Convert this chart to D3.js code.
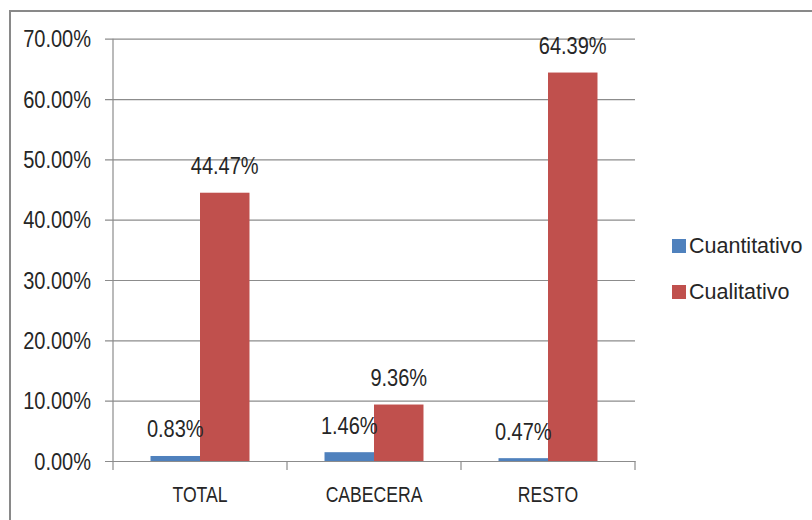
<!DOCTYPE html>
<html>
<head>
<meta charset="utf-8">
<script src="https://cdn.jsdelivr.net/npm/d3@7"></script>
<style>
  html, body { margin: 0; padding: 0; background: #ffffff; }
  svg { display: block; }
  text { font-family: "Liberation Sans", Arial, sans-serif; fill: #262626; }
</style>
</head>
<body>
<svg id="chart" width="812" height="520"></svg>
<script>
// Chart data
const categories = ["TOTAL", "CABECERA", "RESTO"];
const seriesNames = ["Cuantitativo", "Cualitativo"];
const cuantitativo = [0.0083, 0.0146, 0.0047];
const cualitativo = [0.4447, 0.0936, 0.6439];
const yTicks = [0, 0.1, 0.2, 0.3, 0.4, 0.5, 0.6, 0.7];
const colors = ["#4F81BD", "#C0504D"];

const seriesValues = [cuantitativo, cualitativo];
const rows = categories.map((c, i) => ({
  category: c,
  values: seriesNames.map((s, j) => ({ series: s, value: seriesValues[j][i] }))
}));

const svg = d3.select("#chart");

// Narrow the glyphs horizontally around each text's own anchor point
function condense(selection, sx) {
  selection.each(function () {
    const t = d3.select(this);
    const x = +t.attr("x") || 0;
    const y = +t.attr("y") || 0;
    t.attr("x", 0).attr("y", 0)
      .attr("transform", `translate(${x},${y}) scale(${sx},1)`);
  });
}

// Outer chart frame
svg.append("rect")
  .attr("x", 10).attr("y", 11)
  .attr("width", 812).attr("height", 520)
  .attr("fill", "#ffffff")
  .attr("stroke", "#898989")
  .attr("stroke-width", 2);

const plot = { left: 113, right: 635, top: 38.7, bottom: 461 };

const x0 = d3.scaleBand()
  .domain(categories)
  .range([plot.left, plot.right])
  .paddingInner(0).paddingOuter(0);

const x1 = d3.scaleBand()
  .domain(seriesNames)
  .range([0, x0.bandwidth()])
  .paddingInner(0).paddingOuter(0.758);

const y = d3.scaleLinear()
  .domain([0, 0.7])
  .range([plot.bottom, plot.top]);

const fmt = d3.format(".2%");

// Horizontal gridlines with left tick marks
const yAxis = d3.axisLeft(y)
  .tickValues(yTicks)
  .tickFormat(fmt)
  .tickSize(-(plot.right - plot.left))
  .tickPadding(22);

const gy = svg.append("g")
  .attr("transform", `translate(${plot.left},0)`)
  .call(yAxis);
gy.select(".domain").remove();
gy.selectAll(".tick line")
  .attr("x1", -8)
  .attr("stroke", "#8c8c8c")
  .attr("stroke-width", 1.2);
gy.selectAll(".tick text")
  .attr("font-size", 23)
  .attr("fill", "#262626")
  .attr("dy", "0.36em")
  .call(condense, 0.87);

// Vertical axis line
svg.append("line")
  .attr("x1", plot.left).attr("x2", plot.left)
  .attr("y1", plot.top).attr("y2", plot.bottom)
  .attr("stroke", "#8c8c8c").attr("stroke-width", 1.2);

// Category axis
const xAxis = d3.axisBottom(x0).tickSize(0).tickPadding(25);
const gx = svg.append("g")
  .attr("transform", `translate(0,${plot.bottom})`)
  .call(xAxis);
gx.select(".domain")
  .attr("stroke", "#8c8c8c").attr("stroke-width", 1.2);
gx.selectAll(".tick text")
  .attr("font-size", 22)
  .attr("fill", "#262626")
  .call(condense, 0.8);

// Tick marks at category boundaries
const boundaries = categories.map(c => x0(c)).concat([x0(categories[categories.length - 1]) + x0.bandwidth()]);
svg.append("g").selectAll("line")
  .data(boundaries)
  .join("line")
  .attr("x1", d => d).attr("x2", d => d)
  .attr("y1", plot.bottom).attr("y2", plot.bottom + 9)
  .attr("stroke", "#8c8c8c").attr("stroke-width", 1.2);

// Bars and value labels
const groups = svg.append("g").selectAll("g")
  .data(rows)
  .join("g")
  .attr("transform", d => `translate(${x0(d.category)},0)`);

groups.selectAll("rect")
  .data(d => d.values)
  .join("rect")
  .attr("x", d => x1(d.series))
  .attr("y", d => y(d.value))
  .attr("width", x1.bandwidth())
  .attr("height", d => plot.bottom - y(d.value))
  .attr("fill", (d, i) => colors[i]);

groups.selectAll("text.value")
  .data(d => d.values)
  .join("text")
  .attr("class", "value")
  .attr("x", d => x1(d.series) + x1.bandwidth() / 2)
  .attr("y", d => y(d.value) - 18.5)
  .attr("text-anchor", "middle")
  .attr("font-size", 23)
  .text(d => fmt(d.value))
  .call(condense, 0.87);

// Legend
const legend = svg.append("g").attr("transform", "translate(672,0)");
const legendY = [253, 299];
seriesNames.forEach((s, i) => {
  legend.append("rect")
    .attr("x", 0).attr("y", legendY[i] - 14)
    .attr("width", 14).attr("height", 14)
    .attr("fill", colors[i]);
  legend.append("text")
    .attr("x", 17).attr("y", legendY[i])
    .attr("font-size", 21.5)
    .text(s);
});
</script>
</body>
</html>
